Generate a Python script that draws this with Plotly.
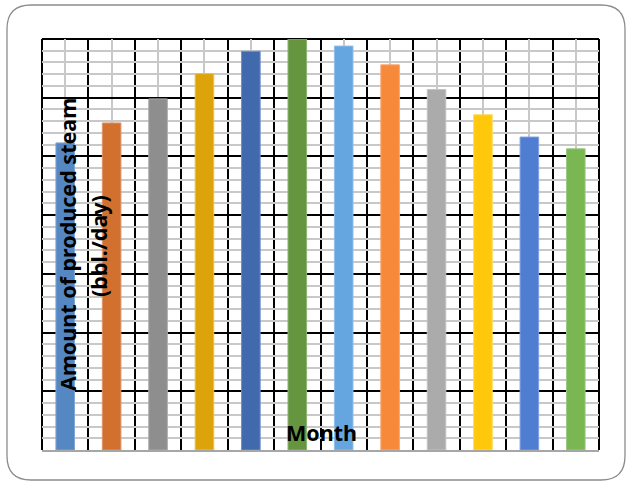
import plotly.graph_objects as go

months = list(range(1, 13))
steam = [5.23, 5.57, 5.98, 6.41, 6.79, 7.0, 6.88, 6.56, 6.14, 5.71, 5.33, 5.13]
bar_colors = ["#5588C3", "#D2702F", "#8E8E8E", "#DCA40A", "#4169AE", "#65963F",
              "#65A6E0", "#F7893A", "#ABABAB", "#FFC80A", "#4E7DD2", "#7AB652"]
edge_colors = ["#7FA6D4", "#E0946A", "#ABABAB", "#E8BF5A", "#6F8FC6", "#8BB274",
               "#8FBEE9", "#F9A872", "#C4C4C4", "#FFD95C", "#7F9FDE", "#9CC986"]

W, H = 626, 481
L, R, T, B = 42, 27, 39, 31
pw, ph = W - L - R, H - T - B

def px(x):
    return (x - L) / pw

def py(y):
    return (H - B - y) / ph

fig = go.Figure()
fig.add_trace(go.Bar(
    x=list(range(len(months))), y=steam,
    marker=dict(color=bar_colors, line=dict(color=edge_colors, width=1)),
    width=0.4, hoverinfo="y",
))

# rounded outer frame
x0, x1, y0, y1 = px(7), px(625), py(480), py(5)
rx, ry = 24 / pw, 24 / ph
path = (f"M {x0+rx},{y1} L {x1-rx},{y1} Q {x1},{y1} {x1},{y1-ry} "
        f"L {x1},{y0+ry} Q {x1},{y0} {x1-rx},{y0} L {x0+rx},{y0} "
        f"Q {x0},{y0} {x0},{y0+ry} L {x0},{y1-ry} Q {x0},{y1} {x0+rx},{y1} Z")
fig.add_shape(type="path", path=path, xref="paper", yref="paper",
              line=dict(color="#8C8C8C", width=1.3))

# plot-area frame lines (black) at left, right and top
for sx0, sy0, sx1, sy1 in [(0, 0, 0, 1), (1, 0, 1, 1), (0, 1, 1, 1)]:
    fig.add_shape(type="line", xref="paper", yref="paper",
                  x0=sx0, y0=sy0, x1=sx1, y1=sy1,
                  line=dict(color="black", width=2), layer="below")

font = dict(family="Noto Sans, Lato, sans-serif", size=21.5, color="black",
            weight="bold")
fig.add_annotation(text="Amount of produced steam", x=px(67), y=py(245),
                   xref="paper", yref="paper", textangle=-90, showarrow=False,
                   font=font, xanchor="center", yanchor="middle")
fig.add_annotation(text="(bbl./day)", x=px(99), y=py(246),
                   xref="paper", yref="paper", textangle=-90, showarrow=False,
                   font=font, xanchor="center", yanchor="middle")
fig.add_annotation(text="Month", x=px(321), y=py(432),
                   xref="paper", yref="paper", showarrow=False,
                   font=font, xanchor="center", yanchor="middle")

fig.update_layout(
    width=W, height=H, margin=dict(l=L, r=R, t=T, b=B),
    paper_bgcolor="white", plot_bgcolor="white", showlegend=False,
    bargap=0.6,
    xaxis=dict(range=[-0.5, 11.5], tick0=0, dtick=1, showticklabels=False,
               ticks="", showgrid=True, gridcolor="#C8C8C8", gridwidth=2,
               minor=dict(tick0=0.5, dtick=1, showgrid=True, gridcolor="black",
                          gridwidth=2, ticks=""),
               showline=True, linecolor="#A6A6A6", linewidth=2, zeroline=False),
    yaxis=dict(range=[0, 7], tick0=0, dtick=1, showticklabels=False, ticks="",
               showgrid=True, gridcolor="black", gridwidth=2, zeroline=False,
               minor=dict(dtick=0.2, showgrid=True, gridcolor="#C8C8C8",
                          gridwidth=2, ticks="")),
)

fig.write_html("out.html")
